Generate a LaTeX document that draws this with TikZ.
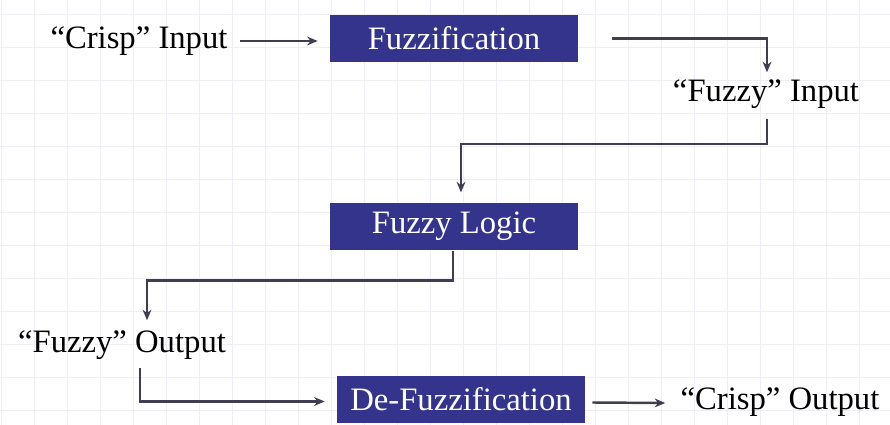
\documentclass[tikz,border=0pt]{standalone}
\usepackage{fontspec}
\setmainfont{Liberation Serif}
\usetikzlibrary{arrows.meta, positioning, calc}
\definecolor{boxblue}{RGB}{52, 52, 140}
\definecolor{linegray}{RGB}{62, 62, 80}
\definecolor{gridgray}{RGB}{238, 238, 244}

\begin{document}
\begin{tikzpicture}[x=0.02cm, y=-0.02cm,
    blk/.style={rectangle, fill=boxblue, text=white, minimum width=4.96cm,
                minimum height=0.95cm, inner sep=0pt, font=\fontsize{18.6}{22}\selectfont},
    txt/.style={inner sep=0pt, font=\fontsize{18.6}{22}\selectfont},
    fl/.style={-{Stealth[length=6pt, width=5pt]}, line width=1.4pt, linegray}
]
\useasboundingbox (0,0) rectangle (890,425);
% faint background grid
\foreach \gx in {1,34,...,890} \draw[gridgray, line width=0.5pt] (\gx,0) -- (\gx,425);
\foreach \gy in {14,47,...,425} \draw[gridgray, line width=0.5pt] (0,\gy) -- (890,\gy);

\node[txt] (cin)    at (139, 41)    {“Crisp” Input};
\node[blk] (fuzz)   at (454, 38.5)  {Fuzzification};
\node[txt] (fin)    at (766, 94)    {“Fuzzy” Input};
\node[blk] (logic)  at (454, 226.5) {Fuzzy Logic};
\node[txt] (fout)   at (122, 345)   {“Fuzzy” Output};
\node[blk] (defuzz) at (461, 399.5) {De-Fuzzification};
\node[txt] (cout)   at (780, 402)   {“Crisp” Output};

\draw[fl] ($(cin.east)+(12,0)$) -- ($(cin.east -| fuzz.west)+(-12,0)$);
\draw[fl] ($(fuzz.east)+(34,0)$) -| ($(fin.north)+(1,-7)$);
\draw[fl] ($(fin.south)+(1,10)$) -- ++(0,25) -| ($(logic.north)+(7,-10)$);
\draw[fl] ($(logic.south)+(-1,0)$) -- ++(0,30) -| ($(fout.north)+(25,-10)$);
\draw[fl] ($(fout.south)+(18,8)$) |- ($(defuzz.west)+(-12,2)$);
\draw[fl] ($(defuzz.east)+(7,3)$) -- ($(cout.west)+(-15,1)$);
\end{tikzpicture}
\end{document}
